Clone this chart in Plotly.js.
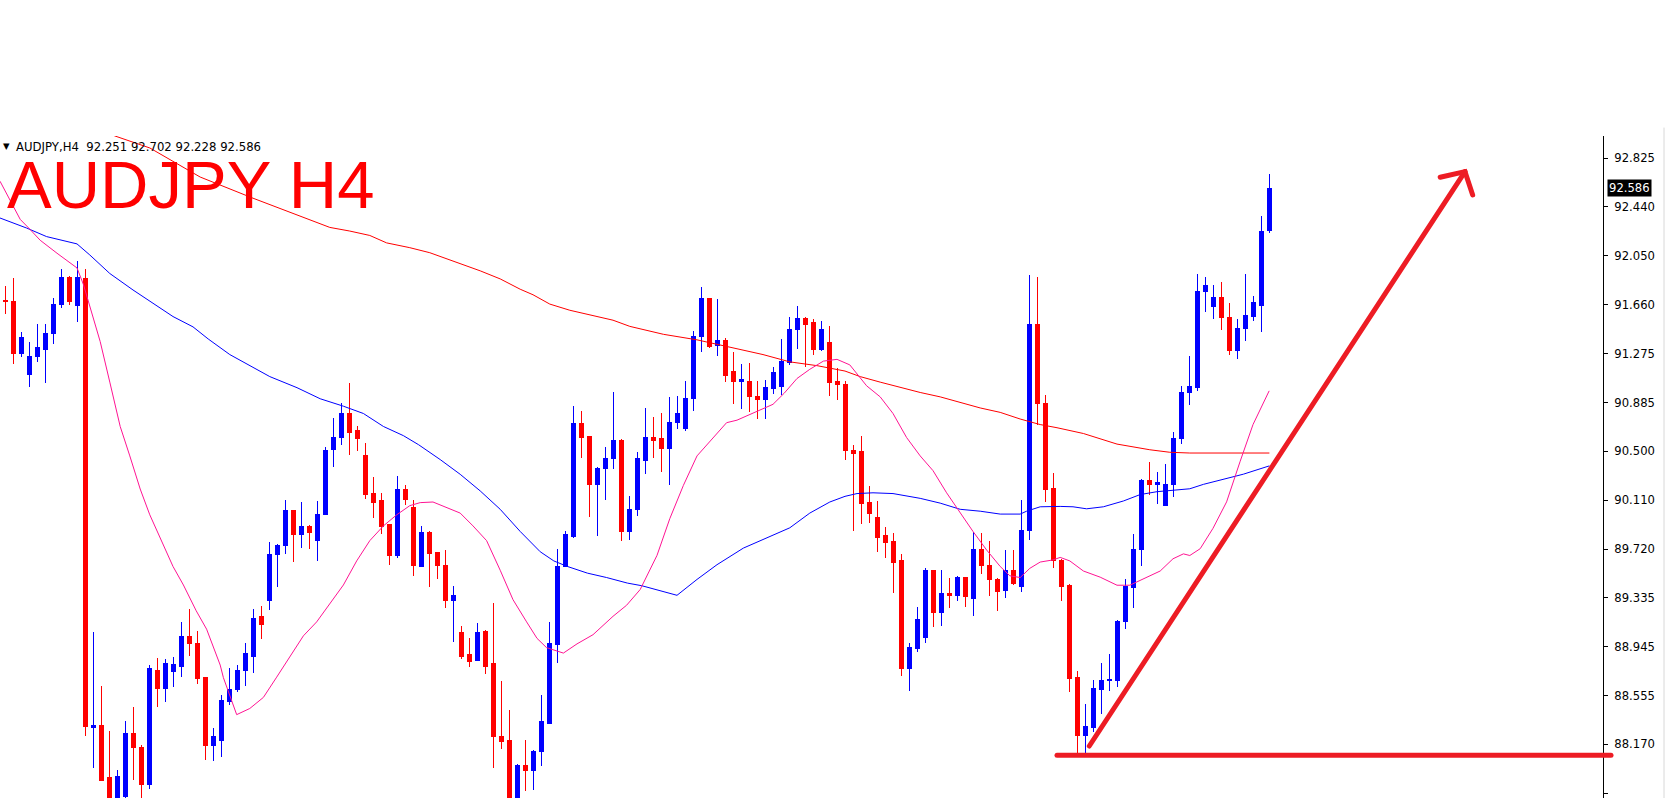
<!DOCTYPE html>
<html>
<head>
<meta charset="utf-8">
<script src="https://cdn.plot.ly/plotly-3.0.1.min.js"></script>
<style>
  html, body { margin: 0; padding: 0; background: #ffffff; }
  #chart { width: 1666px; height: 798px; }
  .boxlayer path { shape-rendering: crispEdges; }
  .scatterlayer .js-line { stroke-linecap: round; }
  .shapelayer path { stroke-linecap: round; }
</style>
</head>
<body>
<div id="chart"></div>
<script>
// ---- Candle data (AUDJPY H4), bar index 0..158 ----
const opens = [91.695,91.691,91.272,91.105,91.249,91.310,91.433,91.667,91.881,91.653,
91.867,88.306,88.316,87.903,87.680,87.754,88.253,88.149,87.850,88.760,
88.617,88.745,88.792,89.026,88.974,88.698,88.158,88.200,88.508,88.602,
88.757,88.871,89.182,89.310,89.676,89.750,90.031,89.840,89.899,89.788,
89.996,90.511,90.607,90.801,90.666,90.461,90.160,90.104,89.914,89.668,
90.192,90.051,89.583,89.849,89.697,89.594,89.310,89.056,88.880,88.836,
89.070,88.813,88.236,88.197,87.720,88.006,87.961,88.112,88.338,88.962,
89.583,89.823,90.716,90.616,90.233,90.359,90.438,90.584,89.861,90.037,
90.423,90.607,90.602,90.520,90.725,90.675,90.915,91.407,91.708,91.340,
91.380,91.135,91.053,91.055,90.930,90.909,90.997,91.012,91.202,91.465,
91.550,91.518,91.310,91.363,91.053,91.032,90.505,90.493,90.092,89.969,
89.826,89.785,89.627,88.769,88.930,89.018,89.548,89.217,89.372,89.351,
89.495,89.328,89.720,89.594,89.483,89.392,89.553,89.422,89.867,91.501,
90.880,90.206,89.634,89.434,88.703,88.244,88.302,88.603,88.674,88.681,
89.143,89.418,89.718,90.267,90.235,90.070,90.232,90.597,90.962,91.008,
91.770,91.648,91.719,91.560,91.302,91.476,91.567,91.654,92.251];
const highs = [91.808,91.875,91.445,91.369,91.509,91.506,91.714,91.946,91.890,92.010,
91.946,89.062,88.637,88.278,87.967,88.357,88.467,88.165,88.801,88.857,
88.851,88.865,89.143,89.246,89.070,88.704,88.301,88.563,88.778,88.801,
88.974,89.246,89.269,89.776,89.758,90.110,90.035,90.095,89.914,90.104,
90.529,90.763,90.883,91.041,90.695,90.564,90.294,90.165,89.920,90.303,
90.230,90.110,89.905,89.861,89.700,89.714,89.427,89.111,89.012,89.135,
89.075,89.290,88.675,88.442,88.014,88.206,88.125,88.560,89.143,89.720,
89.861,90.856,90.818,90.620,90.373,90.531,90.968,90.593,90.145,90.496,
90.842,90.774,90.801,90.930,90.938,91.055,91.457,91.802,91.714,91.708,
91.398,91.287,91.193,91.199,91.053,91.067,91.164,91.392,91.565,91.653,
91.565,91.550,91.536,91.492,91.158,91.055,90.549,90.619,90.221,90.101,
89.896,89.846,89.679,88.974,89.261,89.571,89.553,89.556,89.495,89.510,
89.501,89.855,89.846,89.785,89.490,89.714,89.714,90.110,91.896,91.881,
90.944,90.329,89.640,89.440,88.752,88.490,88.684,88.816,88.884,89.159,
89.482,89.838,90.280,90.413,90.332,90.397,90.655,91.017,91.253,91.906,
91.880,91.816,91.841,91.673,91.551,91.906,91.735,92.365,92.702];
const lows = [91.588,91.193,91.246,91.012,91.208,91.044,91.351,91.638,91.662,91.524,
88.236,87.985,87.876,87.620,87.640,87.730,87.889,87.720,87.818,88.470,
88.508,88.628,88.704,88.871,88.646,88.046,88.040,88.072,88.480,88.587,
88.637,88.739,89.006,89.240,89.422,89.685,89.621,89.732,89.723,89.630,
89.990,90.376,90.549,90.470,90.499,90.119,89.969,89.837,89.597,89.647,
90.072,89.504,89.580,89.422,89.486,89.255,88.982,88.851,88.786,88.830,
88.728,87.985,88.135,87.660,87.680,87.800,87.810,88.000,88.330,88.816,
89.580,89.811,90.446,89.972,89.826,90.110,90.359,89.788,89.794,89.987,
90.315,90.441,90.335,90.233,90.672,90.660,90.821,91.290,91.319,91.258,
91.047,90.877,90.836,90.812,90.754,90.754,90.953,90.944,91.187,91.310,
91.164,91.263,91.298,90.938,90.906,90.432,89.861,89.920,89.928,89.694,
89.650,89.372,88.716,88.596,88.901,88.977,89.105,89.114,89.255,89.310,
89.261,89.193,89.524,89.348,89.231,89.334,89.436,89.384,89.794,90.710,
90.095,89.574,89.311,88.584,88.083,88.083,88.270,88.409,88.593,88.626,
89.085,89.256,89.589,90.154,90.080,90.064,90.138,90.555,90.869,90.978,
91.605,91.551,91.460,91.266,91.234,91.373,91.534,91.447,92.228];
const closes = [91.688,91.272,91.404,91.252,91.319,91.436,91.667,91.881,91.691,91.875,
88.309,88.322,87.881,87.660,87.911,88.260,88.146,87.850,88.769,88.617,
88.816,88.801,89.026,88.968,88.690,88.158,88.236,88.515,88.608,88.760,
88.889,89.173,89.120,89.682,89.747,90.031,89.840,89.899,89.852,89.999,
90.508,90.610,90.801,90.651,90.596,90.154,90.095,89.899,89.668,90.192,
90.116,89.589,89.849,89.685,89.589,89.310,89.354,88.865,88.827,89.056,
88.792,88.229,88.192,87.700,88.000,87.966,88.110,88.348,88.974,89.583,
89.840,90.716,90.607,90.233,90.359,90.438,90.584,89.861,90.037,90.438,
90.607,90.587,90.520,90.730,90.795,90.918,91.410,91.708,91.334,91.380,
91.099,91.053,91.067,90.930,90.909,91.003,91.120,91.208,91.468,91.556,
91.504,91.310,91.468,91.044,91.026,90.502,90.479,90.086,90.007,89.817,
89.770,89.618,88.769,88.939,89.158,89.548,89.217,89.372,89.351,89.495,
89.343,89.720,89.589,89.477,89.384,89.553,89.451,89.870,91.501,90.877,
90.198,89.627,89.424,88.697,88.238,88.309,88.616,88.681,88.687,89.149,
89.424,89.721,90.267,90.235,90.251,90.235,90.597,90.966,91.014,91.770,
91.816,91.719,91.560,91.302,91.476,91.573,91.677,92.245,92.586];
const barIndex = opens.map((_, i) => i);

// ---- Moving averages (bar position, price) ----
const maBlueX = [-0.6,2.7,5.2,7.7,9.0,10.6,13.1,16.0,18.5,21.0,23.5,25.4,28.1,30.6,33.1,36.5,39.4,42.3,44.8,47.3,49.8,51.7,54.4,56.9,59.4,61.9,64.4,66.9,68.6,70.3,72.8,75.2,77.8,79.6,82.3,84.0,86.5,89.0,92.3,95.6,98.1,100.6,103.1,105.0,106.5,108.5,111.0,114.4,116.9,119.4,121.9,124.4,126.9,127.7,129.4,131.9,133.5,135.2,137.3,139.8,141.9,144.0,146.5,148.1,149.8,152.3,154.8,158.0];
const maBlueY = [92.35,92.271,92.203,92.165,92.145,92.057,91.910,91.779,91.676,91.568,91.486,91.39,91.266,91.178,91.091,91.003,90.915,90.856,90.798,90.695,90.622,90.55,90.432,90.315,90.183,90.037,89.861,89.700,89.627,89.583,89.530,89.495,89.451,89.43,89.384,89.354,89.480,89.597,89.729,89.817,89.890,90.007,90.095,90.14,90.162,90.168,90.162,90.124,90.086,90.037,90.022,89.999,89.999,90.022,90.057,90.06,90.057,90.041,90.057,90.103,90.154,90.177,90.193,90.200,90.235,90.274,90.316,90.381];

const maRedX = [12.5,13.75,18.1,24.4,31.0,37.8,40.6,43.1,45.6,47.7,50.6,53.1,56.9,59.4,61.9,64.4,66.0,68.1,70.6,73.5,76.0,78.1,82.3,86.5,90.6,94.75,98.1,101.5,105.0,106.9,109.4,111.9,114.4,116.9,119.4,121.9,124.4,126.9,129.4,131.5,134.8,139.0,143.1,145.6,148.1,151.5,155.6,158.0];
const maRedY = [93.04,93.002,92.907,92.676,92.508,92.340,92.276,92.247,92.212,92.153,92.115,92.075,91.990,91.931,91.867,91.785,91.741,91.667,91.618,91.574,91.539,91.49,91.427,91.383,91.325,91.266,91.208,91.178,91.135,91.091,91.047,91.003,90.965,90.930,90.886,90.842,90.807,90.754,90.710,90.685,90.639,90.555,90.510,90.490,90.484,90.484,90.484,90.484];

const maPinkX = [-0.6,1.9,3.1,4.4,6.5,9.0,9.8,10.6,11.9,13.1,14.4,15.6,16.9,18.1,19.8,21.0,22.3,23.9,25.2,26.9,27.3,28.96,30.6,32.3,33.96,35.6,37.3,38.96,40.6,42.3,43.96,45.6,47.3,48.96,50.6,51.9,53.5,55.2,56.9,58.5,60.2,61.9,63.5,65.2,66.5,67.7,69.8,71.5,73.5,76.0,77.7,79.4,81.5,83.1,84.8,86.5,88.1,89.4,90.2,91.5,94.0,96.0,97.4,99.0,100.6,102.3,104.0,105.6,107.7,109.4,111.0,112.7,114.4,116.0,117.7,119.4,121.0,122.7,124.4,125.6,126.9,128.1,129.4,131.0,131.9,133.1,134.8,136.9,139.0,140.6,142.3,144.4,146.0,147.3,148.1,149.4,151.0,152.7,154.4,156.0,158.0];
const maPinkY = [92.64,92.34,92.262,92.174,92.071,91.954,91.823,91.647,91.369,91.047,90.695,90.461,90.198,89.993,89.758,89.583,89.436,89.231,89.085,88.80,88.70,88.406,88.455,88.543,88.704,88.865,89.032,89.143,89.290,89.436,89.627,89.788,89.905,89.993,90.066,90.09,90.095,90.051,90.007,89.905,89.788,89.553,89.319,89.143,89.012,88.938,88.895,88.968,89.041,89.187,89.275,89.40,89.671,89.963,90.227,90.461,90.578,90.666,90.725,90.745,90.818,90.871,90.959,91.076,91.149,91.214,91.228,91.184,91.018,90.930,90.798,90.607,90.461,90.344,90.168,90.007,89.861,89.714,89.583,89.509,89.495,89.568,89.618,89.635,89.655,89.627,89.547,89.498,89.434,89.434,89.482,89.547,89.644,89.683,89.670,89.724,89.886,90.096,90.419,90.710,90.975];

// ---- Hand-drawn annotation (bar position, price) ----
const trendX = [135.54, 182.5];
const trendY = [88.157, 92.719];
const headX = [179.4, 182.5, 183.46];
const headY = [92.674, 92.719, 92.534];
const supportStartX = 131.5;
const supportPrice = 88.083;

// ---- Price axis ticks ----
const tickValues = [92.825,92.440,92.050,91.660,91.275,90.885,90.500,90.110,89.720,89.335,88.945,88.555,88.170,87.780];
const tickLabels = tickValues.map(v => v.toFixed(3));
const lastPrice = 92.586;
const headerText = 'AUDJPY,H4\u00a0\u00a092.251 92.702 92.228 92.586';
const bigTitle = 'AUDJPY H4';

const PAINT_RED = '#ed1c24';
const X_RANGE = [-0.625, 199.75];

const traces = [
  { type: 'scatter', mode: 'lines', x: maRedX, y: maRedY, line: {color: '#ff0000', width: 1}, hoverinfo: 'skip' },
  { type: 'scatter', mode: 'lines', x: maBlueX, y: maBlueY, line: {color: '#0000ff', width: 1}, hoverinfo: 'skip' },
  { type: 'scatter', mode: 'lines', x: maPinkX, y: maPinkY, line: {color: '#ff1493', width: 1}, hoverinfo: 'skip' },
  { type: 'candlestick', x: barIndex, open: opens, high: highs, low: lows, close: closes,
    increasing: { line: {color: '#0000ff', width: 1}, fillcolor: '#0000ff' },
    decreasing: { line: {color: '#ff0000', width: 1}, fillcolor: '#ff0000' },
    whiskerwidth: 0, hoverinfo: 'skip' },
  { type: 'scatter', mode: 'lines', x: trendX, y: trendY, line: {color: PAINT_RED, width: 5}, hoverinfo: 'skip' },
  { type: 'scatter', mode: 'lines', x: headX, y: headY, line: {color: PAINT_RED, width: 5}, hoverinfo: 'skip' }
];

const plotW = 1603, topM = 136, plotH = 798 - topM;
const px = v => v / plotW;
const py = v => 1 - (v - topM) / plotH;
const xToPaper = v => (v - X_RANGE[0]) / (X_RANGE[1] - X_RANGE[0]);

const layout = {
  width: 1666, height: 798,
  margin: {l: 0, r: 1666 - plotW, t: topM, b: 0, pad: 0},
  paper_bgcolor: '#ffffff', plot_bgcolor: '#ffffff',
  showlegend: false, hovermode: false, dragmode: false,
  boxgap: 0.5, boxgroupgap: 0,
  xaxis: { range: X_RANGE, visible: false, fixedrange: true, rangeslider: {visible: false} },
  yaxis: {
    side: 'right', range: [87.744, 93.002], fixedrange: true,
    showgrid: false, zeroline: false,
    showline: true, linecolor: '#000000', linewidth: 1,
    ticks: 'outside', ticklen: 4, tickcolor: '#000000', tickwidth: 1,
    tickmode: 'array', tickvals: tickValues, ticktext: tickLabels,
    ticklabelstandoff: 4,
    tickfont: {family: 'DejaVu Sans', size: 11.6, color: '#000000'}
  },
  shapes: [
    { type: 'line', xref: 'paper', yref: 'y', layer: 'above',
      x0: xToPaper(supportStartX), x1: px(1611), y0: supportPrice, y1: supportPrice,
      line: {color: PAINT_RED, width: 5} },
    { type: 'line', xref: 'paper', yref: 'paper', x0: px(1664), x1: px(1664), y0: 0, y1: py(128), line: {color: '#d8d8d8', width: 1} }
  ],
  annotations: [
    { xref: 'paper', yref: 'paper', x: px(0.5), y: py(146), xanchor: 'left', yanchor: 'middle', showarrow: false,
      text: '\u25BC', font: {family: 'DejaVu Sans', size: 8.5, color: '#000000'} },
    { xref: 'paper', yref: 'paper', x: px(13.5), y: py(146.5), xanchor: 'left', yanchor: 'middle', showarrow: false,
      text: headerText, font: {family: 'DejaVu Sans', size: 11.7, color: '#000000'} },
    { xref: 'paper', yref: 'paper', x: px(5), y: py(183.8), xanchor: 'left', yanchor: 'middle', showarrow: false,
      height: 50, valign: 'middle',
      text: bigTitle, font: {family: 'Liberation Sans', size: 67, color: '#ff0000'} },
    { xref: 'paper', yref: 'y', x: 1, y: lastPrice, xanchor: 'left', yanchor: 'middle', xshift: 4, showarrow: false,
      text: lastPrice.toFixed(3), bgcolor: '#000000', borderpad: 1,
      font: {family: 'DejaVu Sans', size: 11.6, color: '#ffffff'} }
  ]
};

Plotly.newPlot('chart', traces, layout, {staticPlot: true, displayModeBar: false});
</script>
</body>
</html>
